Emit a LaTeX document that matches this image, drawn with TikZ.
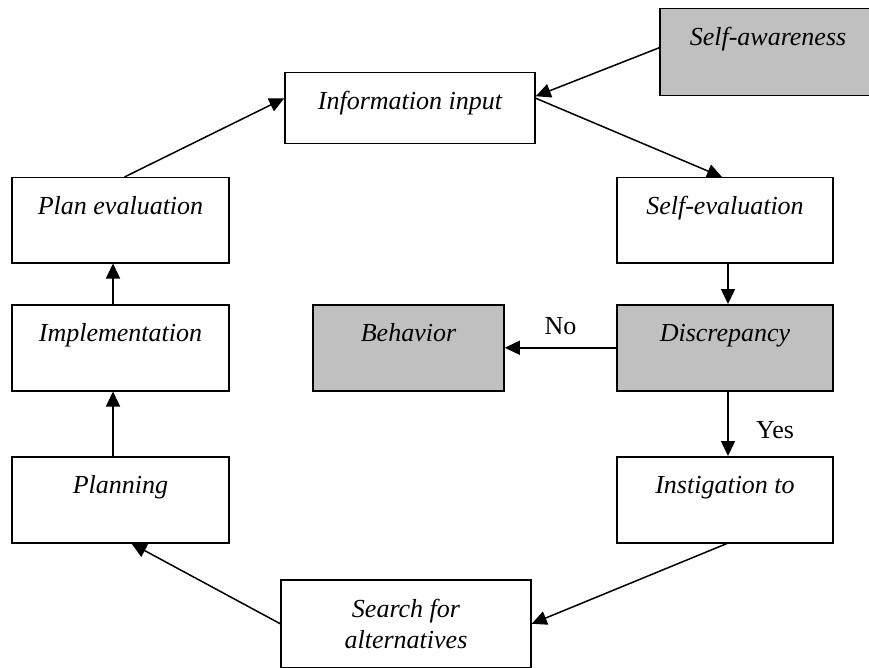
\documentclass[tikz,border=0pt]{standalone}
\usepackage{fontspec}
\setmainfont{Liberation Serif}
\usetikzlibrary{arrows.meta}
\definecolor{boxgray}{RGB}{192,192,192}
\tikzset{
  frame/.style={draw, line width=1.5pt, inner xsep=0pt, inner ysep=0pt, anchor=north,
    font=\fontsize{26pt}{31pt}\selectfont\itshape},
  box/.style={frame, text height=37pt},
  shaded/.style={box, fill=boxgray},
  flow/.style={line width=1.5pt, -{Triangle[length=15pt,width=14pt]}},
  answer/.style={font=\fontsize{26pt}{31pt}\selectfont\upshape, inner sep=0pt}
}
\begin{document}
\begin{tikzpicture}[x=1pt,y=-1pt]
\useasboundingbox (0,0) rectangle (869,668);

% top row
\node[shaded, minimum width=216pt, text depth=50pt] (sa) at (768,8) {Self-awareness};
\node[box, minimum width=250pt, text depth=34pt] (ii) at (410,72) {Information input};

% left column
\node[box, minimum width=217pt, text depth=48pt] (pe) at (120.5,177) {Plan evaluation};
\node[box, minimum width=217pt, text depth=49pt] (im) at (120.5,304) {Implementation};
\node[box, minimum width=217pt, text depth=49pt] (pl) at (120.5,456) {Planning};

% right column
\node[box, minimum width=216pt, text depth=48pt] (se) at (725,177) {Self-evaluation};
\node[shaded, minimum width=216pt, text depth=49pt] (di) at (725,304) {Discrepancy};
\node[box, minimum width=216pt, text depth=49pt] (in) at (725,456) {Instigation to};

% middle
\node[shaded, minimum width=191pt, text depth=49pt] (be) at (408.5,304) {Behavior};
\node[frame, minimum width=250pt, minimum height=88pt, align=center] (sr) at (406,579)
  {Search for\\alternatives};

% connectors
\draw[flow] ([xshift=4pt]pe.north) -- ([yshift=10pt]ii.west);
\draw[flow] ([yshift=4.5pt]sa.west) -- ([yshift=12pt]ii.east);
\draw[flow] ([yshift=10pt]ii.east) -- ([xshift=-3pt]se.north);
\draw[flow] ([xshift=3pt]se.south) -- ([xshift=3pt]di.north);
\draw[flow] (di.west) -- (be.east) node[answer, pos=0.5, above=12pt] (no) {No};
\draw[flow] ([xshift=3pt]di.south) -- ([xshift=3pt]in.north);
\node[answer] (yes) at (775,430) {Yes};
\draw[flow] ([xshift=2pt]in.south) -- (sr.east);
\draw[flow] (sr.west) -- ([xshift=11pt]pl.south);
\draw[flow] ([xshift=-7.5pt]pl.north) -- ([xshift=-7.5pt]im.south);
\draw[flow] ([xshift=-7.5pt]im.north) -- ([xshift=-7.5pt]pe.south);
\end{tikzpicture}
\end{document}
